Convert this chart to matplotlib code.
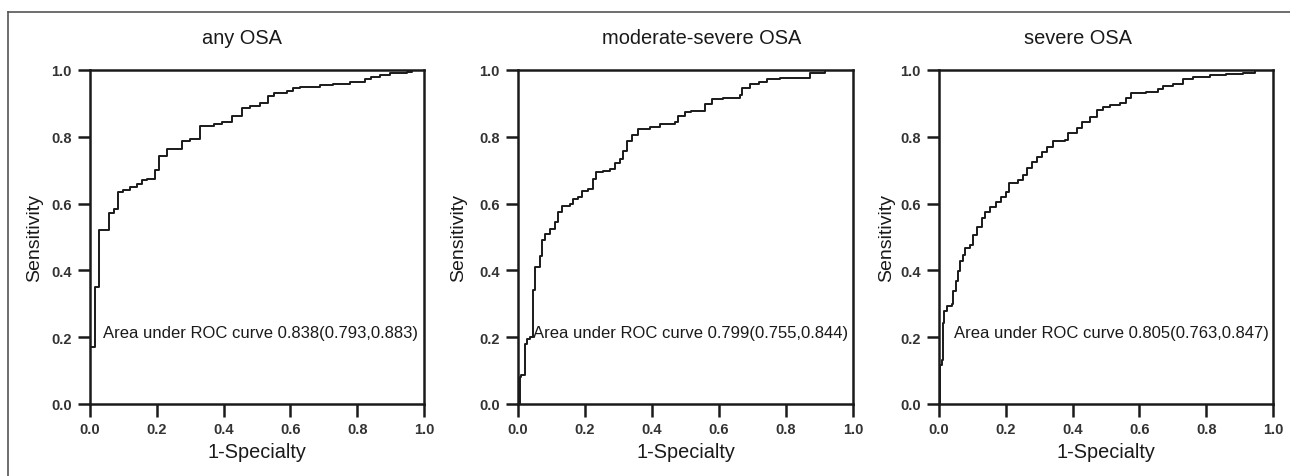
import matplotlib
matplotlib.use("Agg")
import matplotlib.pyplot as plt
from matplotlib.lines import Line2D

plt.rcParams['font.family'] = ['Liberation Sans', 'DejaVu Sans']

titles = ["any OSA", "moderate-severe OSA", "severe OSA"]
auc_texts = ["Area under ROC curve 0.838(0.793,0.883)",
             "Area under ROC curve 0.799(0.755,0.844)",
             "Area under ROC curve 0.805(0.763,0.847)"]

# (1-specificity, sensitivity) step points: value after each jump
fpr_any = [0, 0, 0.015, 0.027, 0.058, 0.073, 0.085, 0.10, 0.12, 0.14, 0.155, 0.17,
           0.196, 0.208, 0.23, 0.274, 0.30, 0.33, 0.37, 0.394, 0.426, 0.454, 0.479,
           0.509, 0.534, 0.55, 0.589, 0.609, 0.629, 0.689, 0.729, 0.778, 0.823, 0.84,
           0.868, 0.898, 0.948, 0.963, 1.0]
tpr_any = [0, 0.17, 0.35, 0.52, 0.572, 0.584, 0.634, 0.64, 0.65, 0.66, 0.67, 0.674,
           0.70, 0.744, 0.763, 0.788, 0.793, 0.833, 0.838, 0.843, 0.863, 0.885, 0.893,
           0.90, 0.923, 0.93, 0.938, 0.945, 0.948, 0.955, 0.958, 0.963, 0.973, 0.98,
           0.985, 0.991, 0.995, 1.0, 1.0]

fpr_mod = [0.005, 0.005, 0.008, 0.022, 0.027, 0.035, 0.045, 0.05, 0.065, 0.072, 0.08,
           0.095, 0.11, 0.12, 0.13, 0.155, 0.165, 0.18, 0.19, 0.21, 0.224, 0.234, 0.254,
           0.274, 0.289, 0.304, 0.314, 0.324, 0.339, 0.359, 0.394, 0.424, 0.469, 0.479,
           0.499, 0.515, 0.558, 0.578, 0.613, 0.663, 0.668, 0.693, 0.718, 0.743, 0.783,
           0.82, 0.872, 0.917, 1.0]
tpr_mod = [0, 0.08, 0.088, 0.18, 0.195, 0.2, 0.34, 0.41, 0.444, 0.49, 0.51,
           0.524, 0.544, 0.574, 0.594, 0.6, 0.614, 0.62, 0.638, 0.645, 0.673, 0.695, 0.698,
           0.703, 0.723, 0.733, 0.758, 0.788, 0.805, 0.823, 0.828, 0.838, 0.843, 0.863,
           0.875, 0.877, 0.897, 0.912, 0.917, 0.924, 0.947, 0.957, 0.964, 0.972, 0.975,
           0.977, 0.992, 1.0, 1.0]

fpr_sev = [0.003, 0.003, 0.008, 0.011, 0.015, 0.023, 0.038, 0.043, 0.05, 0.056, 0.063,
           0.073, 0.078, 0.093, 0.103, 0.113, 0.128, 0.138, 0.153, 0.172, 0.187, 0.202,
           0.21, 0.237, 0.252, 0.262, 0.277, 0.292, 0.307, 0.322, 0.342, 0.377, 0.387,
           0.412, 0.427, 0.452, 0.472, 0.492, 0.511, 0.541, 0.561, 0.576, 0.621, 0.656,
           0.671, 0.70, 0.73, 0.76, 0.81, 0.86, 0.91, 0.945, 1.0]
tpr_sev = [0, 0.118, 0.133, 0.243, 0.278, 0.293, 0.298, 0.337, 0.367, 0.397, 0.427,
           0.447, 0.467, 0.477, 0.506, 0.531, 0.556, 0.576, 0.591, 0.606, 0.621, 0.636,
           0.661, 0.671, 0.686, 0.706, 0.725, 0.74, 0.755, 0.77, 0.787, 0.79, 0.81,
           0.825, 0.845, 0.86, 0.88, 0.89, 0.895, 0.90, 0.915, 0.931, 0.934, 0.944,
           0.952, 0.959, 0.974, 0.979, 0.984, 0.988, 0.992, 1.0, 1.0]

curves = [(fpr_any, tpr_any), (fpr_mod, tpr_mod), (fpr_sev, tpr_sev)]
ticks = [0.0, 0.2, 0.4, 0.6, 0.8, 1.0]
tick_labels = ["0.0", "0.2", "0.4", "0.6", "0.8", "1.0"]

W, H = 1290, 477
fig = plt.figure(figsize=(W / 100, H / 100), dpi=100)

lefts = [90, 518, 939]
widths = [334, 335, 334]
title_x = [242, 702, 1078]
ylab_x = [35, 459, 887]
text_x = [0.04, 0.045, 0.046]
ink = '#1a1a1a'

for i in range(3):
    ax = fig.add_axes([lefts[i] / W, (H - 405) / H, widths[i] / W, 334 / H])
    x, y = curves[i]
    ax.plot(x, y, drawstyle='steps-post', color=ink, lw=1.4)
    ax.set_xlim(0, 1)
    ax.set_ylim(0, 1)
    ax.set_xticks(ticks)
    ax.set_xticklabels(tick_labels)
    ax.set_yticks(ticks)
    ax.set_yticklabels(tick_labels)
    for s in ax.spines.values():
        s.set_linewidth(1.8)
        s.set_color(ink)
    ax.tick_params(direction='out', length=9, width=1.8, color=ink,
                   labelsize=10.5, labelcolor='#333333', pad=4)
    for lab in ax.get_xticklabels() + ax.get_yticklabels():
        lab.set_fontweight('bold')
    ax.set_xlabel("1-Specialty", fontsize=14.3, color=ink)
    ax.xaxis.set_label_coords(0.5, -0.141)
    ax.xaxis.label.set_verticalalignment('center')
    ax.set_ylabel("Sensitivity", fontsize=14, color=ink)
    ax.yaxis.set_label_coords((ylab_x[i] - lefts[i]) / widths[i], 0.5)
    ax.yaxis.label.set_verticalalignment('center')
    ax.text(text_x[i], 0.215, auc_texts[i], fontsize=12, color=ink,
            va='center', ha='left', transform=ax.transAxes)
    fig.text(title_x[i] / W, 1 - 38 / H, titles[i], fontsize=14.4, color=ink,
             ha='center', va='center')

fig.add_artist(Line2D([8 / W, 1], [1 - 12.5 / H, 1 - 12.5 / H], transform=fig.transFigure,
                      color='#555555', lw=1.2))
fig.add_artist(Line2D([8 / W, 8 / W], [0, 1 - 12.5 / H], transform=fig.transFigure,
                      color='#555555', lw=1.2))

fig.savefig("out.png", dpi=100)
